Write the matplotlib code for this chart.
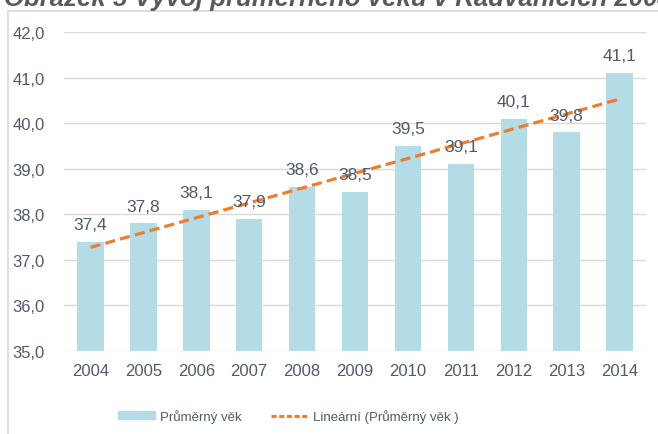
import matplotlib.pyplot as plt
import numpy as np
from matplotlib.lines import Line2D

# data
years = ['2004', '2005', '2006', '2007', '2008', '2009', '2010', '2011', '2012', '2013', '2014']
avg_age = [37.4, 37.8, 38.1, 37.9, 38.6, 38.5, 39.5, 39.1, 40.1, 39.8, 41.1]
y_ticks = [35, 36, 37, 38, 39, 40, 41, 42]

title = 'Obrázek 5 Vývoj průměrného věku v Radvanicích 2004-2014'
bar_label = 'Průměrný věk'
trend_label = 'Lineární (Průměrný věk )'

W, H = 658, 435
BAR_COLOR = '#b4dce6'
TREND_COLOR = '#ed7d31'
TEXT_COLOR = '#505a6b'
GRID_COLOR = '#d9d9d9'

plt.rcParams['font.family'] = ['Liberation Sans', 'DejaVu Sans']

fig = plt.figure(figsize=(W / 100, H / 100), dpi=100)
ax = fig.add_axes([64 / W, 1 - 352 / H, (646 - 64) / W, (352 - 33) / H])

x = np.arange(len(years))
bars = ax.bar(x, avg_age, width=0.5, color=BAR_COLOR, zorder=2)

# linear trendline (Excel "Lineární")
k, q = np.polyfit(x, avg_age, 1)
ax.plot([x[0], x[-1]], [q + k * x[0], q + k * x[-1]], color=TREND_COLOR,
        lw=2.3, dashes=(3.2, 1.6), zorder=3)

for xi, v in zip(x, avg_age):
    ax.annotate(f'{v:.1f}'.replace('.', ','), (xi, v), xytext=(0, 7),
                textcoords='offset points', ha='center', va='bottom',
                fontsize=12.5, color=TEXT_COLOR, zorder=4)

ax.set_xlim(-0.5, len(years) - 0.5)
ax.set_ylim(35, 42)
ax.set_yticks(y_ticks)
ax.set_yticklabels([f'{t:.1f}'.replace('.', ',') for t in y_ticks])
ax.set_xticks(x)
ax.set_xticklabels(years)
ax.tick_params(length=0, labelsize=12, colors=TEXT_COLOR)
ax.tick_params(axis='y', pad=14)
ax.tick_params(axis='x', pad=9)
ax.grid(axis='y', color=GRID_COLOR, lw=1, zorder=0)
for s in ax.spines.values():
    s.set_visible(False)

# legend (sits left of centre in the reference)
handles = [plt.Rectangle((0, 0), 1, 1, color=BAR_COLOR),
           Line2D([], [], color=TREND_COLOR, lw=2.3, dashes=(1.6, 0.8))]
fig.legend(handles, [bar_label, trend_label], loc='center left',
           bbox_to_anchor=(106 / W, 1 - 417 / H), ncol=2, frameon=False,
           fontsize=9.5, labelcolor=TEXT_COLOR, handlelength=2.8,
           handleheight=0.6, handletextpad=0.4, columnspacing=2.2)

# chart frame (only top and left edges visible in the crop)
fig.add_artist(Line2D([7.5 / W, 7.5 / W], [0, 1 - 11.5 / H], color=GRID_COLOR, lw=1.2))
fig.add_artist(Line2D([7.5 / W, 1], [1 - 11.5 / H, 1 - 11.5 / H], color=GRID_COLOR, lw=1.2))

# document caption, cut off at the top edge
fig.text(4 / W, 1 - 6 / H, title, fontsize=18.5, fontweight='bold', style='italic',
         color='#595959', ha='left', va='baseline')

fig.savefig('out.png', dpi=100)
